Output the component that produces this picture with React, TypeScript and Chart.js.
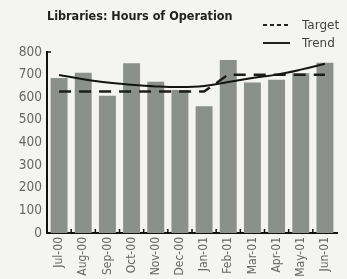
import React, { useEffect, useRef } from "react";
import { Chart, registerables } from "chart.js";

Chart.register(...registerables);

const categories = ["Jul-00", "Aug-00", "Sep-00", "Oct-00", "Nov-00", "Dec-00", "Jan-01", "Feb-01", "Mar-01", "Apr-01", "May-01", "Jun-01"];
const hoursValues = [685, 708, 607, 750, 668, 632, 560, 765, 665, 677, 706, 752];
const targetValues = [625, 625, 625, 625, 625, 625, 625, 700, 700, 700, 700, 700];
const trendValues = [698, 680, 665, 655, 648, 645, 650, 667, 685, 700, 722, 748];
const yTicks = [0, 100, 200, 300, 400, 500, 600, 700, 800];

const FONT = "'DejaVu Sans Condensed', 'DejaVu Sans', sans-serif";

const axisTicksPlugin = {
  id: "axisTicks",
  afterDatasetsDraw(chart: any) {
    const { ctx, chartArea, scales } = chart;
    const xs = scales.x;
    ctx.save();
    ctx.strokeStyle = "#111";
    ctx.lineWidth = 1.5;
    for (let i = 0; i < categories.length - 1; i++) {
      const x = (xs.getPixelForValue(i) + xs.getPixelForValue(i + 1)) / 2;
      ctx.beginPath();
      ctx.moveTo(x, chartArea.bottom);
      ctx.lineTo(x, chartArea.bottom - 4);
      ctx.stroke();
    }
    const yTop = scales.y.getPixelForValue(800);
    ctx.beginPath();
    ctx.moveTo(chartArea.left, yTop);
    ctx.lineTo(chartArea.left + 4, yTop);
    ctx.stroke();
    ctx.restore();
  },
};

export default function App() {
  const ref = useRef<HTMLCanvasElement>(null);
  useEffect(() => {
    if (!ref.current) return;
    const chart = new Chart(ref.current, {
      type: "bar",
      data: {
        labels: categories,
        datasets: [
          {
            type: "line",
            label: "Target",
            data: targetValues,
            borderColor: "#1c1c1c",
            borderWidth: 2.5,
            borderDash: [12, 8],
            pointRadius: 0,
            fill: false,
            order: 1,
          },
          {
            type: "line",
            label: "Trend",
            data: trendValues,
            borderColor: "#141414",
            borderWidth: 2,
            tension: 0.4,
            pointRadius: 0,
            fill: false,
            order: 0,
          },
          {
            type: "bar",
            label: "Hours",
            data: hoursValues,
            backgroundColor: "#8b908d",
            categoryPercentage: 1,
            barPercentage: 0.7,
            order: 2,
          },
        ],
      },
      options: {
        animation: false,
        responsive: false,
        layout: { padding: { top: 52, right: 10, left: 0, bottom: 0 } },
        plugins: { legend: { display: false }, title: { display: false }, tooltip: { enabled: false } },
        scales: {
          x: {
            grid: { display: false, drawTicks: false },
            border: { display: true, color: "#111", width: 2 },
            ticks: {
              minRotation: 90,
              maxRotation: 90,
              padding: 4,
              color: "#666",
              font: { family: FONT, size: 12 },
            },
            afterFit: (s: any) => {
              s.height = 46;
            },
          },
          y: {
            min: 0,
            max: 800,
            grid: { display: false, drawTicks: false },
            border: { display: true, color: "#111", width: 2 },
            afterBuildTicks: (s: any) => {
              s.ticks = yTicks.map((v) => ({ value: v }));
            },
            ticks: {
              padding: 5,
              color: "#666",
              font: { family: FONT, size: 13.5 },
            },
            afterFit: (s: any) => {
              s.width = 47;
            },
          },
        },
      },
      plugins: [axisTicksPlugin],
    });
    return () => chart.destroy();
  }, []);

  return (
    <div style={{ position: "fixed", left: 0, top: 0, width: 347, height: 279, background: "#f4f4f2", overflow: "hidden" }}>
      <canvas ref={ref} width={347} height={279} style={{ position: "absolute", left: 0, top: 0 }} />
      <div
        style={{
          position: "absolute",
          left: 47,
          top: 8,
          fontFamily: FONT,
          fontWeight: "bold",
          fontSize: 12.5,
          color: "#222",
          whiteSpace: "nowrap",
        }}
      >
        Libraries: Hours of Operation
      </div>
      <div style={{ position: "absolute", left: 263, top: 16, fontFamily: "'DejaVu Sans', sans-serif", fontSize: 12, color: "#444", lineHeight: "18px" }}>
        <div style={{ display: "flex", alignItems: "center" }}>
          <svg width={27} height={4} style={{ marginRight: 12 }}>
            <line x1={0} y1={2} x2={27} y2={2} stroke="#222" strokeWidth={2} strokeDasharray="4,3" />
          </svg>
          <span>Target</span>
        </div>
        <div style={{ display: "flex", alignItems: "center" }}>
          <svg width={27} height={4} style={{ marginRight: 12 }}>
            <line x1={0} y1={2} x2={27} y2={2} stroke="#222" strokeWidth={2} />
          </svg>
          <span>Trend</span>
        </div>
      </div>
    </div>
  );
}
